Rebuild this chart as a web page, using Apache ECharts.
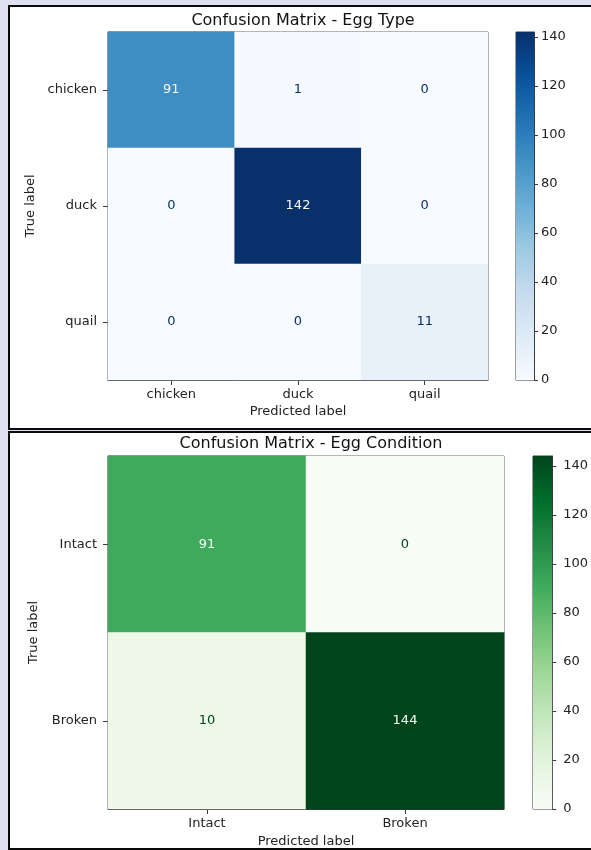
<!DOCTYPE html>
<html>
<head>
<meta charset="utf-8">
<script src="https://cdn.jsdelivr.net/npm/echarts@6/dist/echarts.min.js"></script>
<style>
  html, body { margin: 0; padding: 0; }
  body { width: 591px; height: 850px; background: #dfe1f0; position: relative; overflow: hidden; }
  .panel { position: absolute; left: 8px; width: 600px; box-sizing: border-box; border: 2px solid #0a0a0a; background: #ffffff; }
  #p1 { top: 5px; height: 425px; }
  #p2 { top: 431px; height: 419px; }
  #chart { position: absolute; left: 0; top: 0; width: 591px; height: 850px; }
</style>
</head>
<body>
<div class="panel" id="p1"></div>
<div class="panel" id="p2"></div>
<div id="chart"></div>
<script>
// Egg type classifier results (rows = true label, columns = predicted label)
const typeLabels = ['chicken', 'duck', 'quail'];
const typeMatrix = [
  [91, 1, 0],
  [0, 142, 0],
  [0, 0, 11]
];

// Egg condition classifier results
const conditionLabels = ['Intact', 'Broken'];
const conditionMatrix = [
  [91, 0],
  [10, 144]
];

// Colorbar tick values
const colorbarTicks = [0, 20, 40, 60, 80, 100, 120, 140];

// Sequential palettes (matplotlib Blues / Greens)
const blues = ['#f7fbff', '#deebf7', '#c6dbef', '#9ecae1', '#6baed6', '#4292c6', '#2171b5', '#08519c', '#08306b'];
const greens = ['#f7fcf5', '#e5f5e0', '#c7e9c0', '#a1d99b', '#74c476', '#41ab5d', '#238b45', '#006d2c', '#00441b'];

const FONT = 'DejaVu Sans';
const TEXT = '#222222';
const FRAME = '#3a3a3a';

function cellData(matrix, palette) {
  const flat = matrix.flat();
  const lo = Math.min(...flat), hi = Math.max(...flat);
  const thresh = (lo + hi) / 2;
  const out = [];
  matrix.forEach((row, r) => row.forEach((v, c) => {
    out.push({
      value: [c, r, v],
      label: { color: v > thresh ? palette[0] : palette[palette.length - 1] }
    });
  }));
  return out;
}

function gradient(palette) {
  return {
    type: 'linear', x: 0, y: 1, x2: 0, y2: 0,
    colorStops: palette.map((c, i) => ({ offset: i / (palette.length - 1), color: c }))
  };
}

const typeMax = Math.max(...typeMatrix.flat());
const condMax = Math.max(...conditionMatrix.flat());

function catX(idx, labels, gap) {
  return {
    type: 'category', gridIndex: idx, data: labels, position: 'bottom',
    name: 'Predicted label', nameLocation: 'middle', nameGap: gap,
    nameTextStyle: { fontFamily: FONT, fontSize: 13, color: TEXT },
    axisLine: { show: true, lineStyle: { color: FRAME, width: 1 } },
    axisTick: { show: true, alignWithLabel: true, length: 5, lineStyle: { color: FRAME } },
    axisLabel: { margin: 8, fontFamily: FONT, fontSize: 13, color: TEXT },
    splitLine: { show: false }, splitArea: { show: false }
  };
}
function catY(idx, labels, gap) {
  return {
    type: 'category', gridIndex: idx, data: labels, inverse: true,
    name: 'True label', nameLocation: 'middle', nameGap: gap, nameRotate: 90,
    nameTextStyle: { fontFamily: FONT, fontSize: 13, color: TEXT },
    axisLine: { show: true, lineStyle: { color: FRAME, width: 1 } },
    axisTick: { show: true, alignWithLabel: true, length: 5, lineStyle: { color: FRAME } },
    axisLabel: { margin: 11, fontFamily: FONT, fontSize: 13, color: TEXT },
    splitLine: { show: false }, splitArea: { show: false }
  };
}
function barX(idx) {
  return { type: 'category', gridIndex: idx, data: [''], show: false };
}
function barY(idx, max, margin) {
  return {
    type: 'value', gridIndex: idx, min: 0, max: max, position: 'right',
    axisLine: { show: true, lineStyle: { color: FRAME, width: 1 } },
    axisTick: { show: true, length: 4, lineStyle: { color: FRAME }, customValues: colorbarTicks },
    axisLabel: { margin: margin, fontFamily: FONT, fontSize: 13, color: TEXT, customValues: colorbarTicks },
    splitLine: { show: false }
  };
}

const chart = echarts.init(document.getElementById('chart'), null, { renderer: 'canvas' });
chart.setOption({
  backgroundColor: 'transparent',
  animation: false,
  title: [
    { text: 'Confusion Matrix - Egg Type', left: 298, top: 8, textAlign: 'center',
      textStyle: { fontFamily: FONT, fontSize: 16, fontWeight: 'normal', color: '#111' } },
    { text: 'Confusion Matrix - Egg Condition', left: 306, top: 431, textAlign: 'center',
      textStyle: { fontFamily: FONT, fontSize: 16, fontWeight: 'normal', color: '#111' } }
  ],
  grid: [
    { left: 108, top: 32, width: 380, height: 348, show: true, borderColor: FRAME, borderWidth: 1, containLabel: false },
    { left: 516, top: 32, width: 18, height: 348, show: true, borderColor: FRAME, borderWidth: 1, containLabel: false },
    { left: 108, top: 456, width: 396, height: 353, show: true, borderColor: FRAME, borderWidth: 1, containLabel: false },
    { left: 533, top: 456, width: 20, height: 353, show: true, borderColor: FRAME, borderWidth: 1, containLabel: false }
  ],
  xAxis: [catX(0, typeLabels, 25), barX(1), catX(2, conditionLabels, 26), barX(3)],
  yAxis: [catY(0, typeLabels, 68), barY(1, typeMax, 7), catY(2, conditionLabels, 68), barY(3, condMax, 11)],
  visualMap: [
    { type: 'continuous', show: false, seriesIndex: 0, min: 0, max: typeMax, inRange: { color: blues } },
    { type: 'continuous', show: false, seriesIndex: 2, min: 0, max: condMax, inRange: { color: greens } }
  ],
  series: [
    {
      type: 'heatmap', xAxisIndex: 0, yAxisIndex: 0,
      data: cellData(typeMatrix, blues),
      label: { show: true, fontFamily: FONT, fontSize: 13 },
      itemStyle: { borderWidth: 0 }
    },
    {
      type: 'bar', xAxisIndex: 1, yAxisIndex: 1, data: [typeMax], barWidth: '100%',
      itemStyle: { color: gradient(blues) }, silent: true
    },
    {
      type: 'heatmap', xAxisIndex: 2, yAxisIndex: 2,
      data: cellData(conditionMatrix, greens),
      label: { show: true, fontFamily: FONT, fontSize: 13 },
      itemStyle: { borderWidth: 0 }
    },
    {
      type: 'bar', xAxisIndex: 3, yAxisIndex: 3, data: [condMax], barWidth: '100%',
      itemStyle: { color: gradient(greens) }, silent: true
    }
  ]
});
</script>
</body>
</html>
